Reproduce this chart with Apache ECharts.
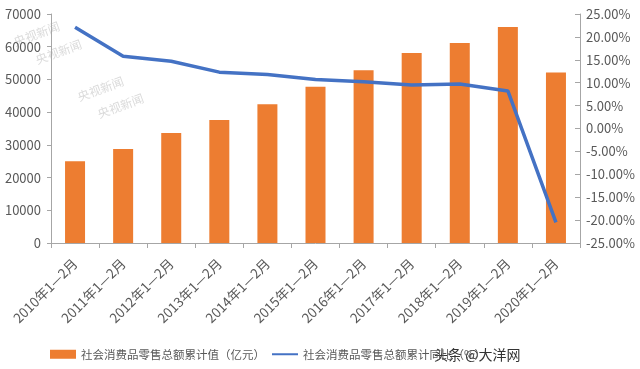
<!DOCTYPE html>
<html><head><meta charset="utf-8">
<script src="https://cdn.jsdelivr.net/npm/echarts@6/dist/echarts.min.js"></script>
<style>html,body{margin:0;padding:0;background:#fff}#c{width:640px;height:369px}</style>
</head><body><div id="c"></div>
<script>
var categories = ['2010年1—2月','2011年1—2月','2012年1—2月','2013年1—2月','2014年1—2月','2015年1—2月','2016年1—2月','2017年1—2月','2018年1—2月','2019年1—2月','2020年1—2月'];
var retailValues = [25000, 28700, 33600, 37600, 42400, 47800, 52800, 58100, 61100, 66000, 52100];
var growthRates = [22.1, 15.8, 14.7, 12.3, 11.8, 10.7, 10.2, 9.5, 9.7, 8.2, -20.5];
var barName = '社会消费品零售总额累计值（亿元）';
var lineName = '社会消费品零售总额累计同比（%）';
var chart = echarts.init(document.getElementById('c'));
var font = '"Noto Sans CJK SC", "Noto Sans", sans-serif';
chart.setOption({
  animation: false,
  textStyle: {fontFamily: font},
  grid: {left: 51, right: 60, top: 14, bottom: 126, containLabel: false},
  legend: {
    bottom: 4, left: 45, itemGap: 6, itemWidth: 26, itemHeight: 9,
    textStyle: {color: '#595959', fontSize: 11.5, fontFamily: font},
    data: [{name: barName, icon: 'rect'}, {name: lineName, itemStyle: {opacity: 0}}]
  },
  xAxis: {
    type: 'category', data: categories,
    axisLine: {lineStyle: {color: '#a6a6a6', width: 1}},
    axisTick: {show: true, length: 5, lineStyle: {color: '#a6a6a6'}},
    axisLabel: {rotate: 45, interval: 0, color: '#595959', fontSize: 13.5, margin: 18}
  },
  yAxis: [{
    type: 'value', min: 0, max: 70000, interval: 10000, position: 'left',
    axisLine: {show: true, lineStyle: {color: '#a6a6a6'}},
    axisTick: {show: true, length: 4, lineStyle: {color: '#a6a6a6'}},
    splitLine: {show: false},
    axisLabel: {color: '#595959', fontSize: 13, margin: 10, formatter: function(v){return String(v);}}
  }, {
    type: 'value', min: -25, max: 25, interval: 5, position: 'right',
    axisLine: {show: true, lineStyle: {color: '#a6a6a6'}},
    axisTick: {show: true, inside: true, length: 5, lineStyle: {color: '#a6a6a6'}},
    splitLine: {show: false},
    axisLabel: {color: '#595959', fontSize: 13, margin: 6, formatter: function(v){return v.toFixed(2)+'%';}}
  }],
  series: [{
    name: barName, type: 'bar', data: retailValues, barWidth: 20,
    itemStyle: {color: '#ED7D31'}
  }, {
    name: lineName, type: 'line', yAxisIndex: 1, data: growthRates,
    symbol: 'none', lineStyle: {color: '#4472C4', width: 3.5}, itemStyle: {color: '#4472C4'}
  }],
  graphic: [
    {type: 'text', left: 12, top: 20, rotation: 0.35, style: {text: '央视新闻', fill: 'rgba(150,150,150,0.35)', font: '12px ' + font}},
    {type: 'text', left: 34, top: 38, rotation: 0.35, style: {text: '央视新闻', fill: 'rgba(150,150,150,0.35)', font: '12px ' + font}},
    {type: 'text', left: 76, top: 75, rotation: 0.35, style: {text: '央视新闻', fill: 'rgba(150,150,150,0.35)', font: '12px ' + font}},
    {type: 'text', left: 96, top: 92, rotation: 0.35, style: {text: '央视新闻', fill: 'rgba(150,150,150,0.35)', font: '12px ' + font}},
    {type: 'text', left: 433, top: 347, style: {text: '头条 @大洋网', fill: '#333', stroke: '#fff', lineWidth: 2, font: '14px ' + font}}
  ]
});
</script></body></html>
